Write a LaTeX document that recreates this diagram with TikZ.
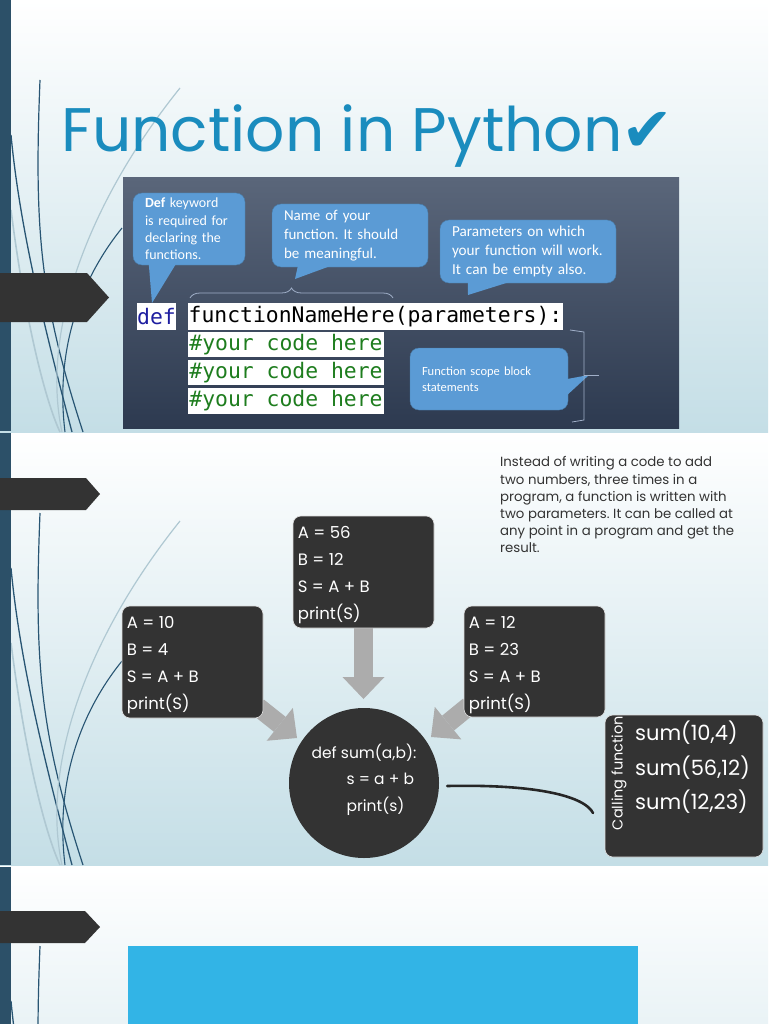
\documentclass[tikz,border=0pt]{standalone}
\usepackage{fontspec}
\setmainfont{Poppins}
\newfontfamily\calfont{Carlito}
\newfontfamily\codefont{DejaVu Sans Mono}
\newfontfamily\symfont{DejaVu Sans}
\usetikzlibrary{arrows.meta,decorations.pathreplacing}
\frenchspacing
\definecolor{barblue}{RGB}{44,80,104}
\definecolor{slbottom}{RGB}{196,222,230}
\definecolor{titleblue}{RGB}{26,140,190}
\definecolor{imgtop}{RGB}{90,102,122}
\definecolor{imgbot}{RGB}{45,58,80}
\definecolor{callblue}{RGB}{91,155,213}
\definecolor{darkbox}{RGB}{51,51,51}
\definecolor{arrowgray}{RGB}{172,172,172}
\definecolor{defblue}{RGB}{30,30,160}
\definecolor{codegreen}{RGB}{30,125,30}
\definecolor{wispdark}{RGB}{40,85,115}
\definecolor{wisplight}{RGB}{175,200,210}
\definecolor{cyanrect}{RGB}{50,180,230}
\definecolor{bracecol}{RGB}{160,175,200}
\definecolor{textgray}{RGB}{51,51,51}
\newcommand\mywisp{%
  \draw[wispdark, line width=1.2pt] (40,80) .. controls (34,230) and (40,300) .. (83,432);
  \draw[wispdark, line width=1.3pt] (11,135) .. controls (20,230) and (45,330) .. (72,432);
  \draw[wispdark, line width=1.1pt] (122,228) .. controls (80,280) and (55,350) .. (65,432);
  \draw[wisplight, line width=1.2pt] (180,88) .. controls (90,200) and (40,330) .. (62,432);
  \draw[wisplight, line width=1.6pt] (11,210) .. controls (25,320) and (45,400) .. (60,432);
}
\tikzset{
  slideshade/.style={top color=white, middle color=slbottom!40!white, bottom color=slbottom},
  tag/.style={fill=darkbox},
  callout/.style={fill=callblue, draw=callblue!80!black, line width=0.4pt, rounded corners=9pt,
    text=white, align=left, inner xsep=12pt, inner ysep=0pt,
    font=\calfont\fontsize{14}{17.3}\selectfont},
  codebox/.style={fill=white, inner sep=0pt, font=\codefont\fontsize{21.4}{21.4}\selectfont},
  darkcard/.style={fill=darkbox, draw=white!75!gray, line width=0.6pt, rounded corners=8pt},
  cardtext/.style={anchor=north west, inner sep=0pt, text=white, align=left,
    font=\fontsize{16.5}{27.2}\selectfont},
  blockarrow/.style={draw=arrowgray, line width=19pt,
    -{Triangle[width=42pt, length=22pt, line width=0pt]}},
}
\begin{document}
\begin{tikzpicture}[x=1pt,y=-1pt]
\useasboundingbox (0,0) rectangle (768,1024);
\clip (0,0) rectangle (768,1024);
\fill[white] (0,0) rectangle (768,1024);
% slide backgrounds
\shade[slideshade] (0,0) rectangle (768,432);
\shade[slideshade] (0,433) rectangle (768,865);
\shade[slideshade] (0,866) rectangle (768,1298);
% wisps
\begin{scope}\clip (0,0) rectangle (768,432); \mywisp \end{scope}
\begin{scope}[shift={(0,433)}]\clip (0,0) rectangle (768,432); \mywisp \end{scope}
\begin{scope}[shift={(0,866)}]\clip (0,0) rectangle (768,432); \mywisp \end{scope}
% left bars
\fill[barblue] (0,0) rectangle (11,431);
\fill[barblue] (0,433) rectangle (11,864.5);
\fill[barblue] (0,866.5) rectangle (11,1024);
% tags
\fill[tag] (0,273) -- (87,273) -- (109,297.5) -- (87,322) -- (0,322) -- cycle;
\fill[tag] (0,478) -- (86,478) -- (100,494) -- (86,510) -- (0,510) -- cycle;
\fill[tag] (0,911) -- (85,911) -- (100,927) -- (85,943) -- (0,943) -- cycle;

% ===== slide 1 =====
\node[anchor=base west, inner sep=0pt, text=titleblue, font=\fontsize{61.5}{61.5}\selectfont] (title) at (61,152) {Function in Python};
\node[anchor=base west, inner sep=0pt, text=titleblue, font=\symfont\fontsize{62}{62}\selectfont] (check) at ([xshift=-1pt]title.base east) {✔};

\shade[top color=imgtop, bottom color=imgbot] (123,178) rectangle (679,428);

\node[callout, minimum width=112pt, minimum height=72pt, text width=88pt] (co1) at (189,229)
  {\textbf{Def} keyword\\is required for\\declaring the\\functions.};
\node[callout, minimum width=156pt, minimum height=63pt, text width=132pt,
  font=\calfont\fontsize{15}{19}\selectfont] (co2) at (350,235.5)
  {Name of your\\function. It should\\be meaningful.};
\node[callout, minimum width=176pt, minimum height=63pt, text width=152pt,
  font=\calfont\fontsize{15.2}{19}\selectfont] (co3) at (528,251.5)
  {Parameters on which\\your function will work.\\It can be empty also.};
\node[callout, minimum width=158pt, minimum height=62pt, text width=134pt,
  font=\calfont\fontsize{12.5}{16}\selectfont] (co4) at (489,379)
  {Function scope block\\statements};
\coordinate (tip1) at (152,303);
\coordinate (tip2) at (295,279);
\coordinate (tip3) at (468,295);
\coordinate (tip4) at (589,375);
\fill[callblue] ([xshift=16pt,yshift=1pt]co1.south west) -- ([xshift=43pt,yshift=1pt]co1.south west) -- (tip1) -- cycle;
\fill[callblue] ([xshift=26pt,yshift=1pt]co2.south west) -- ([xshift=58pt,yshift=1pt]co2.south west) -- (tip2) -- cycle;
\fill[callblue] ([xshift=28pt,yshift=1pt]co3.south west) -- ([xshift=69pt,yshift=1pt]co3.south west) -- (tip3) -- cycle;
\fill[callblue] ([xshift=-1pt]co4.east) -- ([xshift=-1pt,yshift=-16pt]co4.east) -- (tip4) -- cycle;

\node[codebox, text=defblue, minimum width=39pt, minimum height=27pt] (kw) at (156.5,316.5) {def};
\node[codebox, minimum width=375pt, minimum height=27pt] (fname) at (375.5,316.5) {functionNameHere(parameters):};
\node[codebox, text=codegreen, minimum width=196pt, minimum height=25pt] (c1) at (286,344.5) {\#your code here};
\node[codebox, text=codegreen, minimum width=196pt, minimum height=25pt] (c2) at (286,372.5) {\#your code here};
\node[codebox, text=codegreen, minimum width=196pt, minimum height=26pt] (c3) at (286,401) {\#your code here};

\draw[bracecol, line width=0.8pt, decorate, decoration={brace, amplitude=10pt}] (190,298) -- (393,298);
\draw[bracecol, line width=0.8pt] (570,330) -- (584,332) -- (584,420) -- (572,422);
\draw[bracecol, line width=0.8pt] (584,375) -- (599,375);

% ===== slide 2 =====
\node[anchor=north west, inner sep=0pt, align=left, text=textgray, font=\fontsize{13.3}{17.2}\selectfont] (para) at (500,456.5)
  {Instead of writing a code to add\\two numbers, three times in a\\program, a function is written with\\two parameters. It can be called at\\any point in a program and get the\\result.};

\coordinate (la) at (258,707);
\coordinate (lt) at (297,738);
\coordinate (dt) at (363.5,699);
\coordinate (ra) at (469,706);
\coordinate (rt) at (431,737);
\draw[blockarrow] (la) -- (lt);
\draw[blockarrow] (363.5,625) -- (dt);
\draw[blockarrow] (ra) -- (rt);

\node[darkcard, minimum width=141pt, minimum height=112pt] (boxL) at (192.5,662) {};
\node[darkcard, minimum width=141pt, minimum height=112pt] (boxT) at (363.5,572) {};
\node[darkcard, minimum width=141pt, minimum height=111pt] (boxR) at (534.5,661.5) {};
\node[cardtext] (txtL) at ([xshift=5pt,yshift=-10pt]boxL.north west) {A = 10\\B = 4\\S = A + B\\print(S)};
\node[cardtext] (txtT) at ([xshift=5pt,yshift=-10pt]boxT.north west) {A = 56\\B = 12\\S = A + B\\print(S)};
\node[cardtext] (txtR) at ([xshift=5pt,yshift=-10pt]boxR.north west) {A = 12\\B = 23\\S = A + B\\print(S)};

\node[circle, fill=darkbox, minimum size=150pt, inner sep=0pt] (circ) at (364,783) {};
\node[inner sep=0pt, text=white, align=left, font=\fontsize{15.5}{26.5}\selectfont] (circtxt) at (364,779.5)
  {def sum(a,b):\\\hspace*{35pt}s = a + b\\\hspace*{35pt}print(s)};

\node[darkcard, minimum width=158pt, minimum height=142pt] (callbox) at (684,786) {};
\node[rotate=90, inner sep=0pt, text=white, font=\fontsize{14.5}{14.5}\selectfont] (calllbl) at (619,773) {Calling function};
\node[anchor=west, inner sep=0pt, align=left, text=white, font=\fontsize{21}{34.5}\selectfont] (sums) at (635,767.5)
  {sum(10,4)\\sum(56,12)\\sum(12,23)};

\coordinate (cEnd) at (593,813);
\draw[black!85, line width=2.6pt, line cap=round] ([xshift=8pt,yshift=-3pt]circ.east) .. controls (540,784) and (585,797) .. (cEnd);

% ===== slide 3 =====
\fill[cyanrect] (128,946) rectangle (638,1024);
\end{tikzpicture}
\end{document}
